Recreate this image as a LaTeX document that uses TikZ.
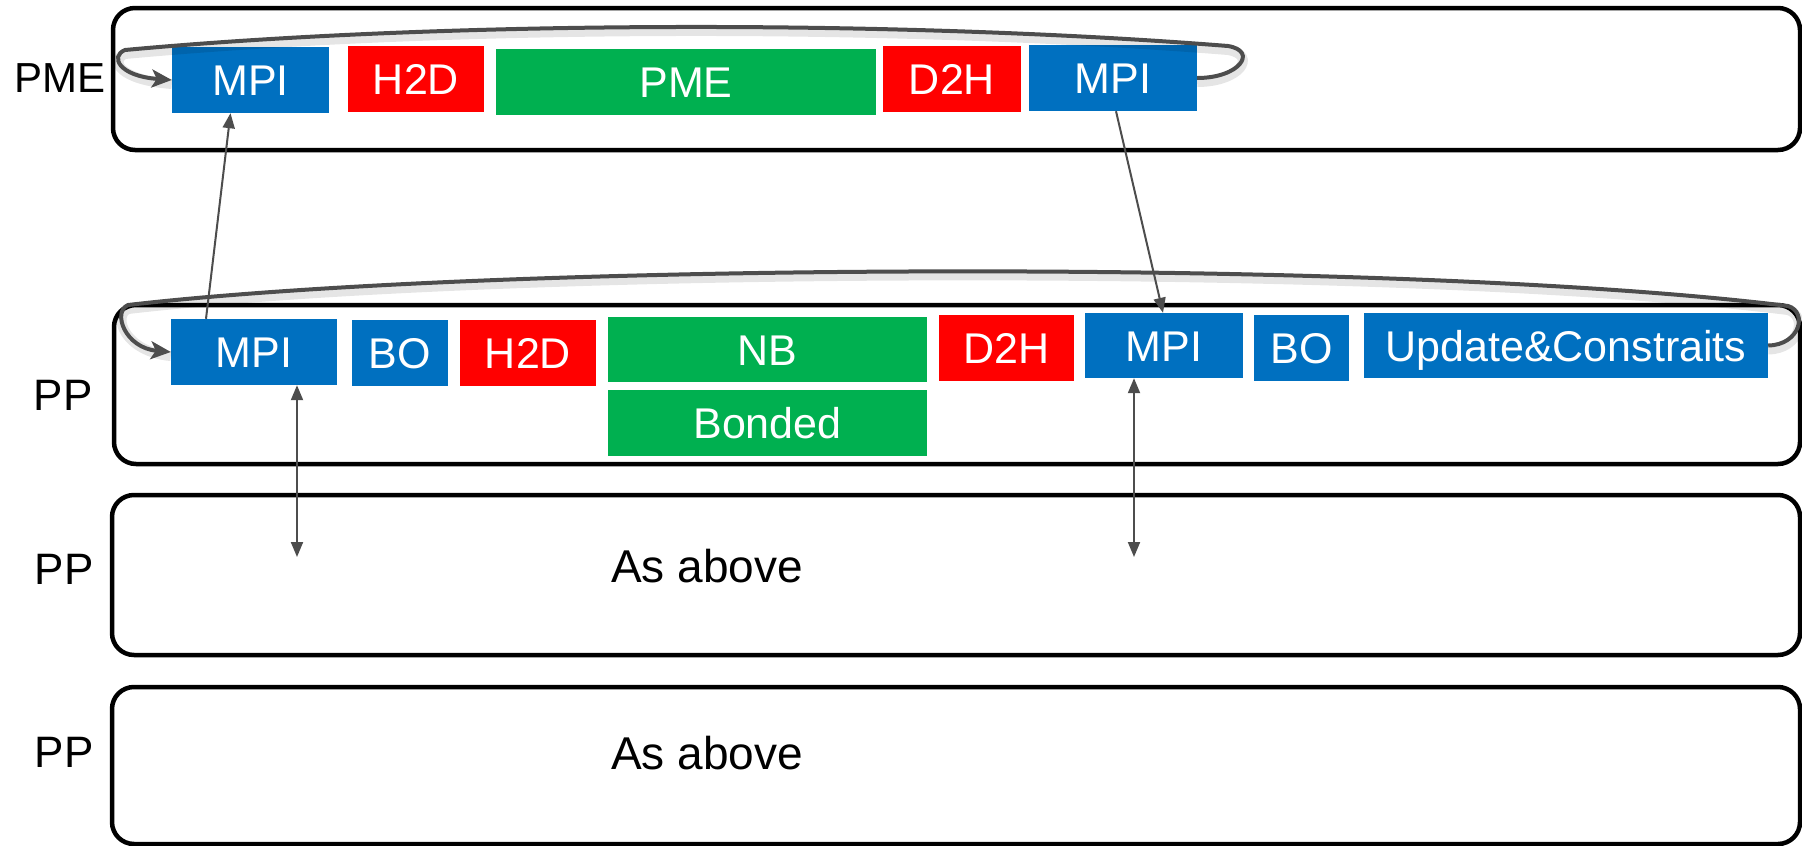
\documentclass[tikz,border=0pt]{standalone}
\usepackage{fontspec}
\setmainfont{Liberation Sans}
\usetikzlibrary{arrows.meta,calc}
\definecolor{blkblue}{HTML}{0070C0}
\definecolor{blkred}{HTML}{FF0000}
\definecolor{blkgreen}{HTML}{00B050}
\definecolor{conn}{HTML}{4D4D4D}

\begin{document}
\begin{tikzpicture}[x=1pt,y=-1pt,
  lane/.style={draw=black, line width=4.5pt, rounded corners=22pt},
  blk/.style={rectangle, inner sep=0pt, text=white,
    font=\fontsize{43}{50}\selectfont, text height=31pt, text depth=0pt},
  mpi/.style={blk, fill=blkblue},
  xfer/.style={blk, fill=blkred},
  calc/.style={blk, fill=blkgreen},
  lbl/.style={anchor=base, inner sep=0pt, font=\fontsize{42}{48}\selectfont},
  msg/.style={draw=conn, line width=2pt, -{Triangle[length=15pt,width=12pt]}},
  msgboth/.style={msg, {Triangle[length=15pt,width=12pt]}-{Triangle[length=15pt,width=12pt]}},
  loop/.style={draw=conn, line width=4pt, -{Stealth[length=20pt,width=18pt,inset=5pt]},
    preaction={draw=black, opacity=0.1, line width=10pt, -, transform canvas={yshift=-4pt}}},
]
\useasboundingbox (0,0) rectangle (1802,846);

% lanes
\draw[lane] (113,8) rectangle (1800,150);
\draw[lane] (114,305) rectangle (1800,464);
\draw[lane] (112,495) rectangle (1800,655);
\draw[lane] (112,687) rectangle (1800,844);

% lane labels
\node[lbl] (lblPME) at (60,92) {PME};
\node[lbl, font=\fontsize{44}{50}\selectfont] (lblPPa) at (63,410) {PP};
\node[lbl, font=\fontsize{44}{50}\selectfont] (lblPPb) at (64,584) {PP};
\node[lbl, font=\fontsize{44}{50}\selectfont] (lblPPc) at (64,767) {PP};
\node[lbl, font=\fontsize{46}{52}\selectfont] (sameA) at (707,582) {As above};
\node[lbl, font=\fontsize{46}{52}\selectfont] (sameB) at (707,769) {As above};

% PME rank tasks
\node[mpi,  minimum width=157pt, minimum height=66pt] (pmeMPIa) at (250.5,80) {MPI};
\node[xfer, minimum width=136pt, minimum height=66pt] (pmeH2D)  at (416,79) {H2D};
\node[calc, minimum width=380pt, minimum height=66pt] (pmePME)  at (686,82) {PME};
\node[xfer, minimum width=138pt, minimum height=66pt] (pmeD2H)  at (952,79) {D2H};
\node[mpi,  minimum width=168pt, minimum height=66pt] (pmeMPIb) at (1113,78) {MPI};

% PP rank tasks
\node[mpi,  minimum width=166pt, minimum height=66pt] (ppMPIa)  at (254,352) {MPI};
\node[mpi,  minimum width=96pt,  minimum height=66pt] (ppBOa)   at (400,353) {BO};
\node[xfer, minimum width=136pt, minimum height=66pt] (ppH2D)   at (528,353) {H2D};
\node[calc, minimum width=319pt, minimum height=65pt] (ppNB)    at (767.5,349.5) {NB};
\node[calc, minimum width=319pt, minimum height=66pt] (ppBonded) at (767.5,423) {Bonded};
\node[xfer, minimum width=135pt, minimum height=66pt] (ppD2H)   at (1006.5,348) {D2H};
\node[mpi,  minimum width=158pt, minimum height=65pt] (ppMPIb)  at (1164,345.5) {MPI};
\node[mpi,  minimum width=95pt,  minimum height=66pt] (ppBOb)   at (1301.5,348) {BO};
\node[mpi,  minimum width=404pt, minimum height=65pt] (ppUpd)   at (1566,345.5) {Update\&Constraits};

% free ends of the exchanges with the next PP rank
\coordinate (nextA) at (297,557);
\coordinate (nextB) at (1134,557);

% step loops
\draw[loop] (pmeMPIb.east) .. controls (1240,78) and (1258,51) .. (1228,46)
  .. controls (900,20) and (450,20) .. (125,50)
  .. controls (110,56) and (118,76) .. (pmeMPIa.west);
\draw[loop] (ppUpd.east) .. controls (1800,345) and (1808,312) .. (1788,306)
  .. controls (1400,258) and (500,262) .. (128,305)
  .. controls (112,312) and (125,348) .. (ppMPIa.west);

% messages between ranks
\draw[msg] ($(ppMPIa.north)+(-48,0)$) -- ($(pmeMPIa.south)+(-20,0)$);
\draw[msg] ($(pmeMPIb.south)+(3,0)$) -- ($(ppMPIb.north)+(-1,0)$);
\draw[msgboth] ($(ppMPIa.south)+(43,0)$) -- (nextA);
\draw[msgboth] ($(ppMPIb.south)+(-30,0)$) -- (nextB);
\end{tikzpicture}
\end{document}
